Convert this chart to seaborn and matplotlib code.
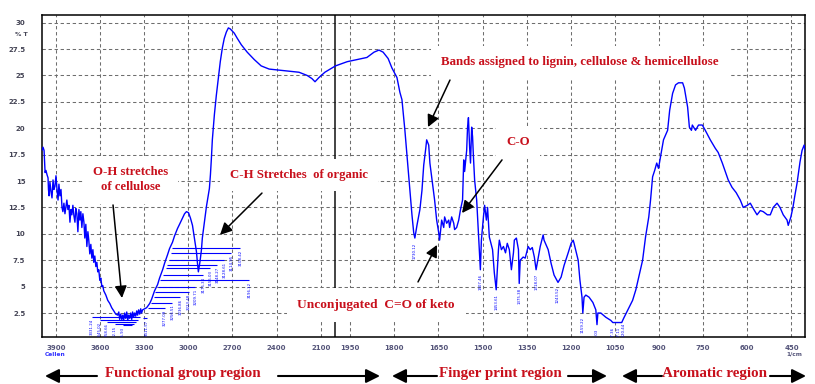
import numpy as np
import pandas as pd
import matplotlib
matplotlib.use("Agg")
import matplotlib.pyplot as plt
from matplotlib.ticker import FixedLocator, FuncFormatter
import seaborn as sns

# ---- FTIR spectrum (wavenumber in cm^-1, transmittance in %T) ----
wavenumber = [
    3995, 3988, 3981, 3974, 3968, 3961, 3954, 3951, 3947, 3941,
    3934, 3927, 3920, 3914, 3907, 3900, 3893, 3886, 3880, 3873,
    3866, 3859, 3853, 3846, 3839, 3832, 3826, 3819, 3812, 3805,
    3798, 3792, 3785, 3778, 3771, 3765, 3758, 3751, 3744, 3737,
    3731, 3724, 3717, 3710, 3704, 3697, 3690, 3683, 3677, 3670,
    3663, 3656, 3649, 3643, 3636, 3629, 3622, 3616, 3609, 3602,
    3595, 3588, 3582, 3575, 3561, 3548, 3534, 3521, 3507, 3494,
    3480, 3473, 3467, 3460, 3453, 3446, 3440, 3433, 3426, 3419,
    3412, 3406, 3399, 3392, 3385, 3379, 3372, 3365, 3358, 3351,
    3345, 3338, 3331, 3324, 3318, 3311, 3297, 3284, 3263, 3250,
    3230, 3209, 3196, 3175, 3162, 3142, 3128, 3108, 3094, 3074,
    3060, 3040, 3026, 3013, 2999, 2986, 2972, 2959, 2945, 2938,
    2932, 2925, 2918, 2911, 2905, 2891, 2877, 2864, 2857, 2850,
    2844, 2837, 2823, 2810, 2796, 2783, 2769, 2756, 2742, 2728,
    2715, 2701, 2688, 2667, 2640, 2600, 2552, 2505, 2451, 2383,
    2315, 2248, 2193, 2160, 2139, 2112, 2072, 2000, 1960, 1926,
    1893, 1869, 1852, 1838, 1821, 1808, 1791, 1781, 1774, 1764,
    1750, 1740, 1734, 1730.12, 1723, 1713, 1706, 1700, 1693, 1690,
    1683, 1679, 1673, 1663, 1656, 1649, 1646, 1639, 1632, 1629,
    1622, 1615, 1612, 1605, 1598, 1595, 1588, 1581, 1575, 1568,
    1564, 1561, 1554, 1551, 1548, 1544, 1541, 1537, 1534, 1531,
    1527, 1520, 1514, 1507.46, 1504, 1497, 1493, 1487, 1483, 1477,
    1466, 1460, 1453.61, 1446, 1443, 1436, 1429, 1422, 1416, 1409,
    1402, 1395, 1392, 1385, 1378, 1375.38, 1372, 1362, 1355, 1345,
    1338, 1331, 1324, 1318.07, 1311, 1304, 1294, 1291, 1277, 1267,
    1257, 1243.52, 1233, 1223, 1209, 1199, 1192, 1189, 1175, 1169,
    1162, 1159.22, 1155, 1149, 1138, 1125, 1115, 1111.03, 1108, 1098,
    1081, 1064, 1057.36, 1044, 1037.11, 1027, 1020.44, 1006, 990, 979,
    969, 956, 946, 935, 929, 922, 915, 908, 902, 895,
    885, 871, 864, 854, 844, 834, 820, 814, 803, 797,
    790, 787, 776, 766, 753, 743, 726, 709, 699, 685,
    675, 665, 652, 638, 624, 614, 600, 590, 580, 567,
    556, 546, 532, 522, 512, 499, 489, 478, 465, 461,
    452, 445, 438, 431, 421, 414, 407, 401,
]
transmittance = [
    17.9, 18.2, 17.9, 15.8, 16.0, 15.6, 15.3, 14.2, 13.6, 14.9,
    14.0, 13.4, 15.1, 14.2, 14.5, 15.5, 14.2, 13.2, 14.7, 13.6,
    14.2, 12.5, 12.1, 12.9, 11.9, 12.6, 13.2, 12.3, 12.7, 11.1,
    12.3, 11.8, 12.7, 11.7, 11.1, 12.4, 11.9, 10.2, 12.3, 11.3,
    12.1, 10.6, 11.9, 11.1, 9.6, 10.9, 8.8, 10.2, 9.4, 8.1,
    9.0, 7.7, 8.5, 7.3, 7.9, 6.9, 7.3, 6.4, 6.6, 5.6,
    5.8, 5.0, 5.1, 4.6, 4.2, 3.7, 3.4, 3.0, 2.7, 2.4,
    2.3, 2.6, 1.9, 2.4, 1.9, 2.3, 1.8, 2.5, 2.0, 2.6,
    1.8, 2.3, 2.0, 2.5, 1.9, 2.6, 2.1, 2.5, 2.2, 2.7,
    2.3, 2.8, 2.4, 2.9, 2.5, 2.8, 2.9, 3.0, 3.4, 3.8,
    4.6, 5.2, 5.8, 6.6, 7.2, 8.0, 8.6, 9.2, 9.8, 10.5,
    10.9, 11.5, 11.9, 12.1, 12.0, 11.5, 10.8, 9.6, 8.3, 7.2,
    6.4, 7.0, 7.7, 8.5, 9.6, 11.1, 12.6, 13.7, 14.3, 15.6,
    17.0, 18.9, 21.3, 23.1, 24.8, 26.3, 27.6, 28.5, 29.1, 29.5,
    29.4, 29.2, 29.0, 28.5, 27.9, 27.2, 26.5, 25.9, 25.6, 25.5,
    25.4, 25.3, 25.0, 24.7, 24.4, 24.8, 25.3, 25.9, 26.3, 26.5,
    26.7, 27.2, 27.4, 27.2, 26.6, 25.7, 24.8, 23.4, 22.7, 19.8,
    15.1, 11.8, 10.1, 9.6, 10.8, 12.3, 14.1, 16.5, 18.1, 18.9,
    18.4, 16.7, 15.4, 13.2, 11.3, 10.1, 9.4, 11.3, 10.6, 11.6,
    11.0, 11.3, 10.6, 11.6, 11.0, 10.4, 10.6, 11.3, 12.3, 13.2,
    17.0, 15.9, 17.9, 20.1, 21.0, 18.2, 16.7, 20.1, 19.2, 17.3,
    15.1, 13.2, 10.1, 6.6, 9.4, 11.6, 12.7, 11.3, 12.5, 9.7,
    8.5, 6.3, 4.7, 8.5, 9.4, 8.5, 8.8, 8.2, 9.1, 8.5,
    6.6, 8.2, 9.4, 9.6, 8.5, 5.3, 7.5, 7.8, 7.7, 8.8,
    8.5, 8.7, 7.8, 6.6, 7.7, 8.8, 9.9, 9.4, 8.5, 7.2,
    6.1, 5.4, 5.9, 7.0, 8.2, 9.1, 9.4, 9.1, 7.5, 5.6,
    4.0, 2.5, 4.0, 4.2, 4.0, 3.5, 2.8, 1.4, 2.5, 2.5,
    2.1, 1.8, 1.6, 1.6, 1.6, 1.6, 2.0, 2.8, 3.7, 4.7,
    5.9, 7.5, 9.7, 11.6, 13.2, 15.4, 16.0, 16.7, 16.2, 17.3,
    18.9, 19.8, 21.7, 23.3, 24.1, 24.3, 24.3, 23.8, 22.0, 20.1,
    19.8, 20.3, 19.8, 20.3, 20.3, 19.8, 18.9, 18.1, 17.7, 16.7,
    15.9, 15.1, 14.4, 13.9, 13.2, 12.5, 12.7, 12.9, 12.4, 11.8,
    12.2, 12.1, 11.8, 11.8, 12.5, 12.9, 12.5, 11.8, 11.3, 10.8,
    11.6, 12.5, 13.7, 14.8, 16.8, 17.9, 18.4, 17.5,
]

# Peak labels sitting directly under fingerprint-region minima
fp_peak_wn = [1730.12, 1507.46, 1453.61, 1375.38, 1318.07, 1243.52,
              1159.22, 1111.03, 1057.36, 1037.11, 1020.44]
fp_peak_t = [9.6, 6.6, 4.7, 5.3, 6.6, 5.4, 2.5, 1.4, 1.6, 1.6, 2.0]

# Crowded O-H / C-H peak labels moved aside on leader lines
lead_peak_wn = [3108.42, 3114.95, 3128.61, 3148.27, 3155.03, 3175.34,
                3196.12, 3209.71, 3223.48, 3236.86, 3256.51, 3277.09,
                3331.24, 3345.02, 3358.66, 3372.15, 3385.93, 3311.57]
lead_level_t = [8.66, 8.18, 7.52, 7.04, 6.76, 6.10,
                5.62, 4.96, 4.49, 4.01, 3.45, 2.97,
                2.12, 1.85, 1.65, 1.46, 1.37, 2.03]
lead_label_wn = [2647, 2708, 2756, 2803, 2850, 2898,
                 2586, 2952, 2999, 3054, 3108, 3162,
                 3656, 3602, 3555, 3500, 3446, 3284]

x_ticks = [3900, 3600, 3300, 3000, 2700, 2400, 2100,
           1950, 1800, 1650, 1500, 1350, 1200, 1050, 900, 750, 600, 450]
y_ticks = [2.5, 5, 7.5, 10, 12.5, 15, 17.5, 20, 22.5, 25, 27.5, 30]

region_names = ["Functional group region", "Finger print region", "Aromatic region"]

# ---- style ----
sns.set_theme(style="white")
plt.rcParams["font.family"] = ["DejaVu Sans"]

RED = "#c8101c"
BLUE = "#0000ff"
SERIF = ["Liberation Serif", "DejaVu Serif"]

# Split wavenumber axis: 300 cm^-1 per division above 2000, 150 below
BREAK = 2000.0


def fwd(w):
    w = np.asarray(w, dtype=float)
    return np.where(w >= BREAK, BREAK / 150 + (w - BREAK) / 300, w / 150)


def inv(u):
    u = np.asarray(u, dtype=float)
    return np.where(u >= BREAK / 150, BREAK + (u - BREAK / 150) * 300, u * 150)


fig = plt.figure(figsize=(8.15, 3.84), dpi=100)
fig.patch.set_facecolor("white")
ax = fig.add_axes([42 / 815, 1 - 337 / 384, 763 / 815, 322 / 384])

df = pd.DataFrame({"wn": wavenumber, "T": transmittance})
sns.lineplot(data=df, x="wn", y="T", sort=False, estimator=None,
             color=BLUE, linewidth=1.0, ax=ax, zorder=3)

ax.set_xscale("function", functions=(fwd, inv))
ax.set_xlim(3995, 404)
ax.set_ylim(0.23, 30.72)
ax.set_xlabel("")
ax.set_ylabel("")

# ticks
minor_x = [v for v in list(range(2000, 4001, 50)) + list(range(400, 2000, 25))
           if v not in x_ticks]
ax.xaxis.set_major_locator(FixedLocator(x_ticks))
ax.xaxis.set_minor_locator(FixedLocator(minor_x))
ax.xaxis.set_major_formatter(FuncFormatter(lambda v, p: f"{v:.0f}"))
ax.yaxis.set_major_locator(FixedLocator(y_ticks))
ax.yaxis.set_minor_locator(FixedLocator([v / 2 for v in range(1, 62) if v % 5]))
ax.yaxis.set_major_formatter(FuncFormatter(lambda v, p: f"{v:g}"))

ax.tick_params(axis="both", which="major", direction="out", width=1.2,
               color="black", labelsize=5)
ax.tick_params(axis="y", which="major", length=8, pad=4, labelcolor="#444455")
ax.tick_params(axis="y", which="minor", length=5, width=1.0, color="black")
ax.tick_params(axis="x", which="major", length=5, pad=1, labelcolor="#55557a")
ax.tick_params(axis="x", which="minor", length=3, width=0.8, color="black")
for lbl in ax.get_xticklabels() + ax.get_yticklabels():
    lbl.set_fontweight("bold")

for side in ["left", "bottom", "top", "right"]:
    ax.spines[side].set_visible(True)
    ax.spines[side].set_color("black")
    ax.spines[side].set_linewidth(1.1)

ax.grid(True, which="major", color="#6e6e6e", linewidth=0.75,
        linestyle=(0, (3.2, 2.6)), zorder=0)
ax.set_axisbelow(True)

# scale change marker
ax.axvline(BREAK, color="#111111", linewidth=1.1, zorder=1)

# peak labels
for w, t in zip(fp_peak_wn, fp_peak_t):
    ax.text(w, t - 0.4, f"{w:.2f}", rotation=90, ha="center", va="top",
            fontsize=2.8, color=BLUE, clip_on=True, zorder=3)

ax.hlines(lead_level_t, lead_peak_wn, lead_label_wn, color=BLUE,
          linewidth=0.8, zorder=3)
for w, t, lw_ in zip(lead_peak_wn, lead_level_t, lead_label_wn):
    ax.text(lw_, t - 0.15, f"{w:.2f}", rotation=90, ha="center", va="top",
            fontsize=2.8, color=BLUE, clip_on=True, zorder=3)

# band annotations
box = dict(boxstyle="square,pad=0.8", facecolor="white", edgecolor="none")
notes = [
    ("O-H stretches\nof cellulose", 0.1160, 0.488, 9.2),
    ("C-H Stretches  of organic", 0.3368, 0.503, 9.2),
    ("Bands assigned to lignin, cellulose & hemicellulose", 0.705, 0.854, 9.3),
    ("C-O", 0.624, 0.606, 9.2),
    ("Unconjugated  C=O of keto", 0.438, 0.0994, 9.6),
]
for txt, x, y, fs in notes:
    ax.text(x, y, txt, transform=ax.transAxes, ha="center", va="center",
            multialignment="center", linespacing=1.35,
            fontsize=fs, fontweight="bold", color=RED, family=SERIF,
            bbox=box, zorder=5)

arrow_kw = dict(arrowstyle="-|>,head_length=0.6,head_width=0.3", color="black",
                lw=1.1, mutation_scale=12, shrinkA=0, shrinkB=0)
pointers = [
    ((0.0931, 0.410), (0.1048, 0.121)),
    ((0.2883, 0.447), (0.2333, 0.317)),
    ((0.5347, 0.798), (0.5059, 0.652)),
    ((0.6029, 0.550), (0.5505, 0.385)),
    ((0.4928, 0.171), (0.5177, 0.286)),
]
for start, end in pointers:
    ax.annotate("", xy=end, xytext=start, xycoords="axes fraction",
                arrowprops=arrow_kw, zorder=6)

# small axis captions
fig.text(21 / 815, 1 - 34 / 384, "% T", ha="center", va="center",
         fontsize=4.5, color="#444455", fontweight="bold")
fig.text(55 / 815, 1 - 354 / 384, "Cellen", ha="center", va="center",
         fontsize=4.2, color="#3030ff", fontweight="bold")
fig.text(794 / 815, 1 - 354 / 384, "1/cm", ha="center", va="center",
         fontsize=4.2, color="#55557a", fontweight="bold")

# region labels under the axis
region_centers = [182.5 / 815, 500.5 / 815, 714.5 / 815]
for name, cx in zip(region_names, region_centers):
    fig.text(cx, 1 - 374 / 384, name, ha="center", va="center",
             fontsize=10.8, fontweight="bold", color=RED, family=SERIF)

region_arrows = [(97, 45), (278, 380), (437, 392), (568, 607), (662, 622), (770, 806)]
for x0, x1 in region_arrows:
    ax.annotate("", xy=(x1 / 815, 1 - 376 / 384), xytext=(x0 / 815, 1 - 376 / 384),
                xycoords="figure fraction", annotation_clip=False,
                arrowprops=dict(arrowstyle="-|>,head_length=0.7,head_width=0.35",
                                color="black", lw=1.5, mutation_scale=12,
                                shrinkA=0, shrinkB=0))

fig.savefig("out.png", dpi=100, facecolor="white")
